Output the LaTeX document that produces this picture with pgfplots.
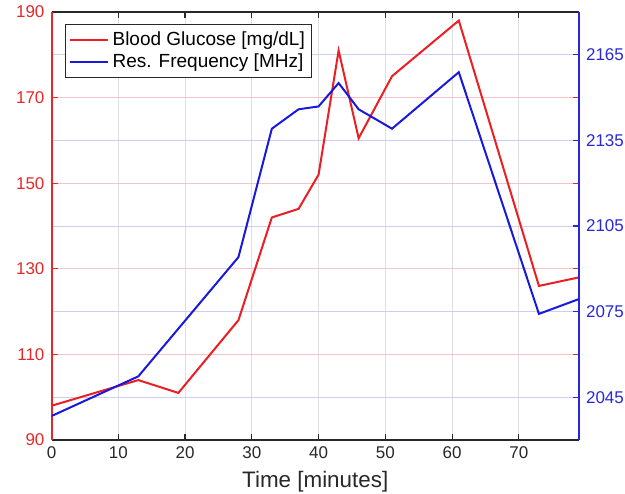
\documentclass[border=0pt]{standalone}
\usepackage{pgfplots}
\pgfplotsset{compat=1.18}
\usepackage{fontspec}
\setmainfont{Liberation Sans}
\definecolor{cRed}{RGB}{235,30,35}
\definecolor{cBlue}{RGB}{25,25,220}
\definecolor{axRed}{RGB}{230,40,40}
\definecolor{axBlue}{RGB}{40,40,215}
\definecolor{gridRed}{RGB}{245,195,200}
\definecolor{gridBlue}{RGB}{205,205,245}
\definecolor{gridGray}{RGB}{222,222,222}
\definecolor{axGray}{RGB}{40,40,40}
\begin{document}
\begin{tikzpicture}
\begin{axis}[
  at={(0,0)}, anchor=south west, scale only axis,
  width=263.75pt, height=214pt,
  xmin=0, xmax=79, ymin=90, ymax=190,
  xtick={0,10,...,70}, ytick={90,110,...,190},
  minor ytick={100,120,...,180},
  tick align=inside, major tick length=3pt, minor tick length=0pt,
  xticklabel pos=left, yticklabel pos=left,
  separate axis lines,
  x axis line style={axGray, line width=0.6pt},
  y axis line style={axRed, line width=1pt},
  xtick style={axGray, line width=0.6pt},
  ytick style={axRed, line width=0.6pt},
  xmajorgrids, ymajorgrids, yminorgrids,
  x grid style={gridGray, line width=0.5pt},
  major y grid style={gridRed, line width=0.5pt},
  minor y grid style={gridBlue, line width=0.5pt},
  /pgf/number format/assume math mode=true,
  /pgf/number format/1000 sep={},
  ticklabel style={font=\fontsize{8.5}{10}\selectfont},
  xticklabel style={text=axGray},
  yticklabel style={text=axRed},
  xlabel={Time [minutes]},
  xlabel style={font=\fontsize{11.2}{13}\selectfont, text=axGray, yshift=1pt},
  legend style={at={(rel axis cs:0.0256,0.972)}, anchor=north west,
    draw=axGray, line width=0.6pt, font=\fontsize{9.5}{11}\selectfont,
    inner sep=1.5pt, row sep=-1.5pt, cells={anchor=west}},
  legend image code/.code={\draw[#1] (0pt,0pt) -- (19pt,0pt);},
]
\addplot[cRed, line width=1pt] coordinates {
  (0,98) (13,104) (19,101) (28,118) (33,142) (37,144) (40,152)
  (43,181) (46,160.5) (51,175) (61,188) (73,126) (79,128)};
\addlegendentry{Blood Glucose [mg/dL]}
\addlegendimage{cBlue, line width=1pt}
\addlegendentry{Res. Frequency [MHz]}
\end{axis}
\begin{axis}[
  at={(0,0)}, anchor=south west, scale only axis,
  width=263.75pt, height=214pt,
  xmin=0, xmax=79, ymin=2030, ymax=2180,
  axis x line=none, axis y line*=right,
  ytick={2045,2075,...,2165},
  tick align=inside, major tick length=3pt,
  y axis line style={-, axBlue, line width=1pt},
  ytick style={axBlue, line width=0.6pt},
  /pgf/number format/assume math mode=true,
  /pgf/number format/1000 sep={},
  ticklabel style={font=\fontsize{8.5}{10}\selectfont},
  yticklabel style={text=axBlue},
]
\addplot[cBlue, line width=1pt] coordinates {
  (0,2038.4) (13,2052.3) (28,2094.1) (33,2139.1) (37,2145.9) (40,2146.9)
  (43,2155.1) (46,2145.9) (51,2139.1) (61,2158.9) (73,2074.2) (79,2079.4)};
\end{axis}
\pgfresetboundingbox
\path (-25.75pt,-26.5pt) rectangle (286.75pt,220pt);
\end{tikzpicture}
\end{document}
